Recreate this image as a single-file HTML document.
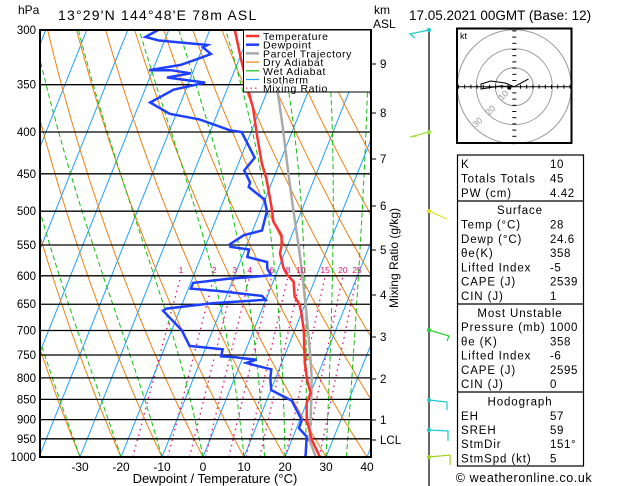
<!DOCTYPE html>
<html><head><meta charset="utf-8"><style>
html,body{margin:0;padding:0;background:#fff;width:629px;height:486px;overflow:hidden}
svg{display:block;font-family:"Liberation Sans",sans-serif}
</style></head><body>
<svg id="chart" width="629" height="486" viewBox="0 0 629 486" xmlns="http://www.w3.org/2000/svg">
<defs><clipPath id="pc"><rect x="40" y="30" width="331" height="427"/></clipPath></defs>
<g id="bg" clip-path="url(#pc)"></g>
<g id="prof" clip-path="url(#pc)"></g>
<g id="ax"></g>
<text x="18" y="14" font-size="12">hPa</text>
<text x="58" y="20" font-size="14" letter-spacing="1.2">13°29'N  144°48'E  78m  ASL</text>
<text x="374" y="14" font-size="12">km</text>
<text x="373" y="28" font-size="12">ASL</text>
<text x="409" y="20" font-size="13.5">17.05.2021  00GMT  (Base: 12)</text>
<text x="215" y="483" font-size="13" text-anchor="middle">Dewpoint / Temperature (°C)</text>
<text transform="translate(398,258) rotate(-90)" font-size="12" text-anchor="middle">Mixing Ratio (g/kg)</text>
<g id="legend"></g>
<g id="hodo"></g>
<g id="barbs"></g>
<g id="table"></g>
<text x="524" y="482" font-size="12.5" text-anchor="middle" letter-spacing="0.6">© weatheronline.co.uk</text>
</svg>
<script>
const pressureLevels=[300,350,400,450,500,550,600,650,700,750,800,850,900,950,1000];
const tempTicks=[-30,-20,-10,0,10,20,30,40];
const tempP=[1000,953,901,859,835,805,768,699,667,650,636,627,610,598,587,563,550,535,527,515,494,456,437,403,374,364,326,300];
const tempT=[28.5,24.9,21.7,20.0,20.0,17.9,15.7,12.2,10.0,8.6,6.7,6.1,5.0,2.7,1.2,-1.1,-1.5,-2.5,-3.8,-5.8,-7.7,-11.7,-14.3,-18.3,-21.8,-23.4,-29.5,-33.9];
const dewP=[1000,944,922,901,853,828,800,781,774,767,760,757,755,753,738,731,699,662,658,648,642,635,626,622,612,605,601,599,588,577,569,557,553,549,535,528,500,484,467,461,446,430,400,398,386,380,368,355,348,346,343,339,336,336,331,324,321,315,313,309,306,300];
const dewT=[25.0,23.3,20.6,20.5,16.1,10.1,8.7,8.1,4.5,1.4,3.5,0,-1.7,-5.4,-5.7,-14.1,-17.6,-24,-23.4,-12.5,-0.1,-1.3,-12.7,-19.4,-19.4,-11.2,-4,-1.1,-2.7,-3.4,-8.7,-9,-13.8,-14.2,-11.7,-7.7,-8.4,-10.1,-15.2,-15.3,-17.9,-16.6,-22.3,-25.3,-33.8,-41.6,-47.5,-43,-36,-39.8,-45.8,-40.4,-45.6,-50.9,-43.7,-39.2,-37.4,-40,-39.1,-51.4,-55,-52.6];
const parcelP=[1000,953,900,850,800,750,700,650,600,550,500,450,394,358];
const parcelT=[27.5,24.3,22.6,20.8,18.8,16.2,13.3,10.1,6.6,2.6,-1.9,-6.8,-12.8,-17.3];
const isotherms=[-110,-100,-90,-80,-70,-60,-50,-40,-30,-20,-10,0,10,20,30,40];
const dryThetaC=[-30,-20,-10,0,10,20,30,40,50,60,70,80,90,100,110,120,130,140,150,160];
const wetThetaW=[-30,-20,-10,0,10,15,20,25,30,35];
const mixRatios=[1,2,3,4,6,8,10,15,20,25];
const kmLabels=["9","8","7","6","5","4","3","2","1","LCL"];
const kmY=[64,113,159,206,250,295,337,379,420,440];

const NS="http://www.w3.org/2000/svg";
function yP(p){return 30+Math.log(p/300)/Math.log(1000/300)*427;}
function xT(T,p){return 203+4.1*T+0.4*(457-yP(p));}
function mk(tag,attrs,parent){const e=document.createElementNS(NS,tag);for(const k in attrs)e.setAttribute(k,attrs[k]);parent.appendChild(e);return e;}
function poly(pts,parent,stroke,w,dash){return mk('polyline',{points:pts.map(a=>a[0].toFixed(1)+','+a[1].toFixed(1)).join(' '),fill:'none',stroke:stroke,'stroke-width':w,'stroke-dasharray':dash||'none'},parent);}
const bg=document.getElementById('bg'),prof=document.getElementById('prof'),ax=document.getElementById('ax');

isotherms.forEach(T=>{const l=poly([[xT(T,1000),yP(1000)],[xT(T,300),yP(300)]],bg,'#1ea0ff',1);

});
dryThetaC.forEach(th=>{const pts=[];for(let p=1000;p>=300;p-=10){const T=(th+273.15)*Math.pow(p/1000,0.286)-273.15;pts.push([xT(T,p),yP(p)]);}
const l=poly(pts,bg,'#f08010',1);

});
function es(T){return 6.112*Math.exp(17.67*T/(T+243.5));}
wetThetaW.forEach(tw=>{let T=tw,pts=[];for(let p=1000;p>=300;p-=5){pts.push([xT(T,p),yP(p)]);const Tk=T+273.15,e=es(T),rs=0.622*e/(p-e);
const d=(287*Tk+2.5e6*rs)/(p*(1004+2.5e6*2.5e6*rs*0.622/(287*Tk*Tk)));T-=d*5;}
const l=poly(pts,bg,'#10c010',1,'5,3');

});
function tdFromW(w,p){const e=w*p/(622+w),a=Math.log(e/6.112);return 243.5*a/(17.67-a);}
mixRatios.forEach(w=>{const l=poly([[xT(tdFromW(w,1000),1000),yP(1000)],[xT(tdFromW(w,600),600),yP(600)]],bg,'#e0107a',1.3,'1.5,4');


const t=mk('text',{x:xT(tdFromW(w,600),600),y:273,'font-size':8.5,fill:'#e0107a','text-anchor':'middle'},ax);t.textContent=w;

});
pressureLevels.forEach(p=>{const l=mk('line',{x1:40,x2:371,y1:yP(p),y2:yP(p),stroke:'#000','stroke-width':1.3},bg);


const t=mk('text',{x:36,y:yP(p)+4,'font-size':11.5,'text-anchor':'end'},ax);t.textContent=p;

});
const pl=poly(parcelP.map((p,i)=>[xT(parcelT[i],p),yP(p)]),prof,'#aaaaaa',2.5);


const tl=poly(tempP.map((p,i)=>[xT(tempT[i],p),yP(p)]),prof,'#ff3030',2.5);


const dl=poly(dewP.map((p,i)=>[xT(dewT[i],p),yP(p)]),prof,'#2040ff',2.5);


const fr=mk('rect',{x:40,y:30,width:331,height:427,fill:'none',stroke:'#000','stroke-width':2},ax);


tempTicks.forEach(T=>{const t=mk('text',{x:203+4.1*T,y:471,'font-size':12,'text-anchor':'middle'},ax);t.textContent=T;

});
kmLabels.forEach((k,i)=>{mk('line',{x1:371,x2:376,y1:kmY[i],y2:kmY[i],stroke:'#000'},ax);
const t=mk('text',{x:380,y:kmY[i]+4,'font-size':11.5},ax);t.textContent=k;

});
const lg=document.getElementById('legend');
mk('rect',{x:243.5,y:30,width:127,height:62,fill:'#fff',stroke:'#000','stroke-width':1},lg);
const legNames=['Temperature','Dewpoint','Parcel Trajectory','Dry Adiabat','Wet Adiabat','Isotherm','Mixing Ratio'];
const legCols=['#ff3030','#2040ff','#aaaaaa','#f08010','#10c010','#1ea0ff','#e0107a'];
legNames.forEach((n,i)=>{const y=36+i*8.7;const g=mk('g',{},lg);


mk('line',{x1:246,x2:259,y1:y,y2:y,stroke:legCols[i],'stroke-width':i<3?2.5:1.2,'stroke-dasharray':i==6?'1.5,3':'none'},g);
const t=mk('text',{x:263,y:y+4,'font-size':10.5,'letter-spacing':'0.6'},g);t.textContent=n;});
const hd=document.getElementById('hodo');const cx=514.3,cy=86.7;
[19,38,57].forEach(r=>mk('circle',{cx:cx,cy:cy,r:r,fill:'none',stroke:'#999','stroke-width':1},hd));
mk('rect',{x:457,y:28.5,width:114.5,height:114.5,fill:'none',stroke:'#000','stroke-width':2},hd);
mk('line',{x1:457,x2:571,y1:cy,y2:cy,stroke:'#000'},hd);mk('line',{x1:cx,x2:cx,y1:29,y2:143},hd);
for(let i=-9;i<=9;i++){if(!i)continue;mk('line',{x1:cx+i*6.2,x2:cx+i*6.2,y1:cy-2,y2:cy+2,stroke:'#000'},hd);mk('line',{x1:cx-2,x2:cx+2,y1:cy+i*6.2,y2:cy+i*6.2,stroke:'#000'},hd);}
[['10',502,101],['20',489,116],['30',476,128]].forEach(a=>{const t=mk('text',{x:a[1],y:a[2],'font-size':9,fill:'#999',transform:`rotate(-45 ${a[1]} ${a[2]})`},hd);t.textContent=a[0];});
const kt=mk('text',{x:460,y:39,'font-size':9},hd);kt.textContent='kt';
poly([[cx,cy],[500,86],[481,89],[481,84],[491,81],[505,83],[cx,cy]],hd,'#000',1);
poly([[cx,cy],[528.5,79]],hd,'#000',1);mk('circle',{cx:cx-5,cy:cy+1,r:2,fill:'#000'},hd);
const bb=document.getElementById('barbs');
mk('line',{x1:429,x2:429,y1:28,y2:486,stroke:'#000','stroke-width':1.2},bb);
[[30,'#20c8d0',[[410,34],[415,38]]],[132,'#a0e040',[[410,137],[417,136]]],[211,'#e0e020',[[447,219]]],[330,'#20d030',[[449,336],[447,341]]],[400,'#20c8d0',[[447,402],[447,410]]],[430,'#20c8d0',[[448,431],[448,441]]],[457,'#a0d020',[[450,455],[450,465]]]].forEach(b=>{
mk('circle',{cx:429,cy:b[0],r:2,fill:b[1]},bb);const pts=[[429,b[0]]].concat(b[2]);poly(pts,bb,b[1],1.2);});
const tb=document.getElementById('table');
mk('rect',{x:457.5,y:155,width:126,height:311,fill:'#fff',stroke:'#000','stroke-width':1.2},tb);
[201,304,392].forEach(y=>mk('line',{x1:457.5,x2:583.5,y1:y,y2:y,stroke:'#000','stroke-width':1.2},tb));
const rows=[[168,'K','10'],[182.5,'Totals Totals','45'],[197,'PW (cm)','4.42'],
[214,'Surface',null],[228.5,'Temp (°C)','28'],[243,'Dewp (°C)','24.6'],[257,'θe(K)','358'],[271.5,'Lifted Index','-5'],[285.5,'CAPE (J)','2539'],[300,'CIN (J)','1'],
[317,'Most Unstable',null],[331,'Pressure (mb)','1000'],[345.5,'θe (K)','358'],[359.5,'Lifted Index','-6'],[374,'CAPE (J)','2595'],[388,'CIN (J)','0'],
[405.5,'Hodograph',null],[420,'EH','57'],[434,'SREH','59'],[448,'StmDir','151°'],[462.5,'StmSpd (kt)','5']];
rows.forEach(r=>{const g=mk('g',{},tb);


if(r[2]===null){const t=mk('text',{x:520,y:r[0],'font-size':11.5,'text-anchor':'middle','letter-spacing':'0.9'},g);t.textContent=r[1];}
else{const t=mk('text',{x:461,y:r[0],'font-size':11.5,'letter-spacing':'0.9'},g);t.textContent=r[1];const v=mk('text',{x:550,y:r[0],'font-size':11.5,'letter-spacing':'0.6'},g);v.textContent=r[2];}});
</script>
</body></html>
